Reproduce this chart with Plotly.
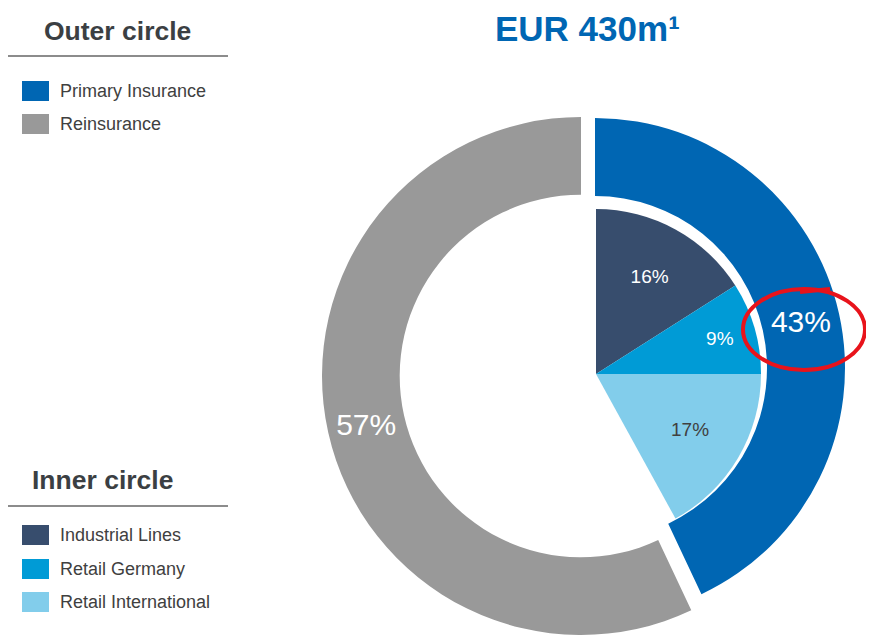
import plotly.graph_objects as go

# page body has an 8px margin, so the figure is drawn 8px right/down
OFF = 8
W, H = 874 - OFF, 638 - OFF

# ---- data ----
outer_labels = ["Primary Insurance", "Reinsurance"]
outer_values = [43, 57]
outer_colors = ["#0066b3", "#999999"]

inner_labels = ["Industrial Lines", "Retail Germany", "Retail International"]
inner_values = [16, 9, 17]
inner_colors = ["#374d6d", "#009bd6", "#82cdeb"]

title_text = "EUR 430m¹"
outer_heading = "Outer circle"
inner_heading = "Inner circle"

FONT = "Liberation Sans, Arial, sans-serif"
TRANSP = "rgba(0,0,0,0)"


def fx(px):
    return (px - OFF) / W


def fy(py):
    return 1 - (py - OFF) / H


def px_dom(cx, cy, r):
    return dict(x=[fx(cx - r), fx(cx + r)], y=[fy(cy + r), fy(cy - r)])


fig = go.Figure()

# Reinsurance (gray) ring
fig.add_trace(go.Pie(
    labels=outer_labels, values=outer_values, sort=False, direction="clockwise",
    rotation=0, hole=0.70, domain=px_dom(581, 376, 259),
    marker=dict(colors=[TRANSP, outer_colors[1]], line=dict(width=0)),
    text=[" ", f"{outer_values[1]}%"], textinfo="text", textposition="inside",
    insidetextorientation="horizontal",
    insidetextfont=dict(family=FONT, size=30, color="white"),
    showlegend=False, hoverinfo="skip",
))

# Primary Insurance (blue) ring, pulled out
fig.add_trace(go.Pie(
    labels=outer_labels, values=outer_values, sort=False, direction="clockwise",
    rotation=0, hole=0.688, domain=px_dom(595, 368, 250),
    marker=dict(colors=[outer_colors[0], TRANSP], line=dict(width=0)),
    text=[f"{outer_values[0]}%", " "], textinfo="text", textposition="inside",
    insidetextorientation="horizontal",
    insidetextfont=dict(family=FONT, size=30, color="white"),
    showlegend=False, hoverinfo="skip",
))

# Inner pie (segments of Primary Insurance)
rest = 100 - sum(inner_values)
fig.add_trace(go.Pie(
    labels=inner_labels + [""], values=inner_values + [rest], sort=False,
    direction="clockwise", rotation=0, domain=px_dom(596, 374, 165),
    marker=dict(colors=inner_colors + [TRANSP], line=dict(width=0)),
    text=[f"{v}%" for v in inner_values] + [" "], textinfo="text",
    textposition="inside", insidetextorientation="horizontal",
    insidetextfont=dict(family=FONT, size=19,
                        color=["white", "white", "#404040", "white"]),
    showlegend=False, hoverinfo="skip",
))

shapes = []
annotations = []

# Title
annotations.append(dict(text=title_text, x=fx(587), y=1, xref="paper", yref="paper",
                        xanchor="center", yanchor="top", showarrow=False, borderpad=0,
                        font=dict(family=FONT, size=35, color="#0066b3", weight="bold")))


def legend_block(heading, head_cx, head_cy, line_y, labels, colors, ys):
    annotations.append(dict(text=f"<b>{heading}</b>", x=fx(head_cx), y=fy(head_cy),
                            xref="paper", yref="paper", xanchor="center", yanchor="middle",
                            showarrow=False, font=dict(family=FONT, size=26.5, color="#3b3f43")))
    shapes.append(dict(type="line", xref="paper", yref="paper",
                       x0=fx(6), x1=fx(228), y0=fy(line_y), y1=fy(line_y),
                       line=dict(color="#8c8c8c", width=2)))
    for lab, col, yc in zip(labels, colors, ys):
        shapes.append(dict(type="rect", xref="paper", yref="paper",
                           x0=fx(22), x1=fx(49), y0=fy(yc - 10), y1=fy(yc + 10),
                           fillcolor=col, line=dict(width=0)))
        annotations.append(dict(text=lab, x=fx(58), y=fy(yc), xref="paper", yref="paper",
                                xanchor="left", yanchor="middle", showarrow=False,
                                font=dict(family=FONT, size=18, color="#404040")))


legend_block(outer_heading, 117, 31, 56, outer_labels, outer_colors, [91, 124])
legend_block(inner_heading, 102, 480, 506, inner_labels, inner_colors, [535, 569, 602])

# Red highlight ellipse around 43%
shapes.append(dict(type="circle", xref="paper", yref="paper",
                   x0=fx(743), x1=fx(865), y0=fy(370), y1=fy(289),
                   line=dict(color="#e8131b", width=4)))
shapes.append(dict(type="line", xref="paper", yref="paper",
                   x0=fx(800), x1=fx(830), y0=fy(292), y1=fy(289),
                   line=dict(color="#e8131b", width=4)))

fig.update_layout(
    width=W, height=H, margin=dict(l=0, r=0, t=0, b=0),
    paper_bgcolor="white", plot_bgcolor="white",
    shapes=shapes, annotations=annotations, showlegend=False,
)

fig.write_html("out.html")
